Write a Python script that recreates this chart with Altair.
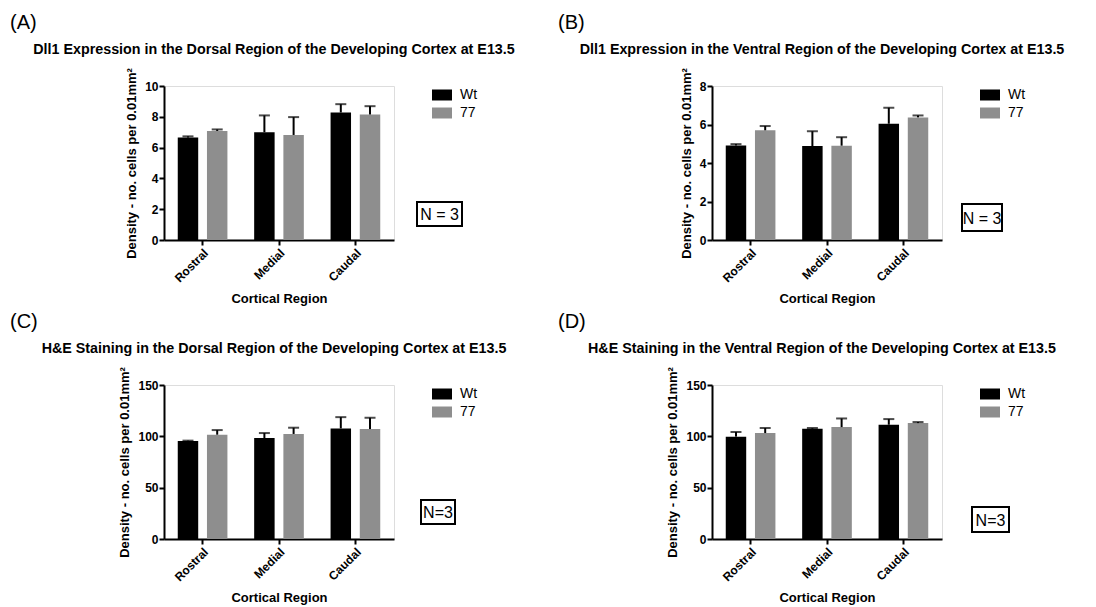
import altair as alt
import pandas as pd

FONT = "Liberation Sans"

regions = ["Rostral", "Medial", "Caudal"]
groups = ["Wt", "77"]
colors = ["#000000", "#8e8e8e"]

# Panel A: Dll1 dorsal
a_wt = [6.65, 7.00, 8.28]
a_wt_sem = [0.08, 1.09, 0.54]
a_77 = [7.08, 6.82, 8.15]
a_77_sem = [0.10, 1.16, 0.54]

# Panel B: Dll1 ventral
b_wt = [4.91, 4.88, 6.04]
b_wt_sem = [0.07, 0.77, 0.83]
b_77 = [5.70, 4.90, 6.37]
b_77_sem = [0.22, 0.44, 0.10]

# Panel C: H&E dorsal
c_wt = [95.5, 98.4, 107.7]
c_wt_sem = [0.3, 4.8, 11.0]
c_77 = [101.6, 102.3, 107.1]
c_77_sem = [4.5, 6.1, 11.0]

# Panel D: H&E ventral
d_wt = [99.7, 107.4, 111.3]
d_wt_sem = [4.5, 0.7, 5.5]
d_77 = [103.2, 109.0, 112.9]
d_77_sem = [4.9, 8.4, 1.0]

tags = ["(A)", "(B)", "(C)", "(D)"]
titles = [
    "Dll1 Expression in the Dorsal Region of the Developing Cortex at E13.5",
    "Dll1 Expression in the Ventral Region of the Developing Cortex at E13.5",
    "H&E Staining in the Dorsal Region of the Developing Cortex at E13.5",
    "H&E Staining in the Ventral Region of the Developing Cortex at E13.5",
]
notes = ["N = 3", "N = 3", "N=3", "N=3"]
ymaxes = [10, 8, 150, 150]
ysteps = [2, 2, 50, 50]

y_title = "Density - no. cells per 0.01mm²"
x_title = "Cortical Region"

W, H = 230, 154
# note box (x0, x1, y0, y1) in pixels relative to plot origin
boxes = [(253, 298, 116, 140), (250, 290, 118, 145), (257, 291, 115, 139), (260, 297, 122, 147)]

data_sets = [
    (a_wt, a_wt_sem, a_77, a_77_sem),
    (b_wt, b_wt_sem, b_77, b_77_sem),
    (c_wt, c_wt_sem, c_77, c_77_sem),
    (d_wt, d_wt_sem, d_77, d_77_sem),
]


def make_panel(i):
    wt, wt_sem, m, m_sem = data_sets[i]
    df = pd.DataFrame({
        "region": regions * 2,
        "group": ["Wt"] * 3 + ["77"] * 3,
        "value": wt + m,
        "sem": wt_sem + m_sem,
    })
    df["top"] = df["value"] + df["sem"]
    ymax = ymaxes[i]
    ticks = list(range(0, ymax + 1, ysteps[i]))
    yscale = alt.Scale(domain=[0, ymax], nice=False)
    yaxis = alt.Axis(values=ticks, tickCount=len(ticks), grid=False, domainColor="black",
                     domainWidth=2, tickColor="black", tickWidth=2, tickSize=5,
                     labelOverlap=False,
                     labelFont=FONT, labelFontWeight="bold", labelFontSize=12,
                     labelColor="black", labelPadding=1,
                     titleFont=FONT, titleFontWeight="bold", titleFontSize=13,
                     titleColor="black", titlePadding=6)
    xaxis = alt.Axis(labelAngle=-45, grid=False, domainColor="black", domainWidth=2,
                     tickColor="black", tickWidth=2, tickSize=5, labelOverlap=False,
                     labelFont=FONT, labelFontWeight="bold", labelFontSize=12,
                     labelColor="black", labelPadding=2,
                     titleFont=FONT, titleFontWeight="bold", titleFontSize=13,
                     titleColor="black", titlePadding=8)
    base = alt.Chart(df).encode(
        x=alt.X("region:N", sort=regions, title=x_title, axis=xaxis,
                scale=alt.Scale(paddingInner=0.35, paddingOuter=0.18)),
        xOffset=alt.XOffset("group:N", sort=groups,
                            scale=alt.Scale(domain=groups, paddingInner=0.3, paddingOuter=0)),
    )
    bars = base.mark_bar().encode(
        y=alt.Y("value:Q", title=y_title, scale=yscale, axis=yaxis),
        color=alt.Color("group:N", sort=groups,
                        scale=alt.Scale(domain=groups, range=colors),
                        legend=alt.Legend(title=None, orient="none", legendX=268, legendY=-1,
                                          symbolType="M-1,-0.55L1,-0.55L1,0.55L-1,0.55Z",
                                          symbolSize=400, symbolStrokeWidth=0,
                                          labelFont=FONT, labelFontSize=14, labelColor="black",
                                          labelOffset=8, rowPadding=1, padding=0)),
    )
    rules = base.mark_rule(color="black", strokeWidth=2).encode(
        y=alt.Y("value:Q", title=y_title, scale=yscale, axis=yaxis),
        y2="top:Q",
    )
    caps = base.mark_tick(color="black", thickness=2, size=11, orient="horizontal").encode(
        y=alt.Y("top:Q", title=y_title, scale=yscale, axis=yaxis),
    )
    one = pd.DataFrame({"tag": [tags[i]], "note": [notes[i]], "title": [titles[i]]})
    tag = alt.Chart(one).mark_text(font=FONT, fontSize=20, align="left", baseline="top",
                                   color="black").encode(
        text="tag:N", x=alt.value(-154), y=alt.value(-73))
    head = alt.Chart(one).mark_text(font=FONT, fontSize=14.3, fontWeight="bold", align="center",
                                    baseline="alphabetic", color="black").encode(
        text="title:N", x=alt.value(W / 2 - 5), y=alt.value(-32))
    x0, x1, y0, y1 = boxes[i]
    box = alt.Chart(one).mark_rect(fill="white", stroke="black", strokeWidth=2).encode(
        x=alt.value(x0), x2=alt.value(x1), y=alt.value(y0), y2=alt.value(y1))
    note = alt.Chart(one).mark_text(font=FONT, fontSize=16, align="center", baseline="middle",
                                    color="black").encode(
        text="note:N", x=alt.value((x0 + x1) / 2), y=alt.value((y0 + y1) / 2 + 1))
    return alt.layer(bars, rules, caps, tag, head, box, note).properties(width=W, height=H)


panels = [make_panel(i) for i in range(4)]

chart = alt.concat(
    *panels, columns=2, spacing={"row": 145, "column": 318}, bounds="flush"
).resolve_scale(
    color="independent", x="independent", y="independent", xOffset="independent"
).resolve_legend(color="independent").properties(
    padding={"left": 1, "top": 4, "right": 5, "bottom": 5}
).configure_view(stroke=None).configure(background="white")

chart.save("out.html", embed_options={"renderer": "svg", "actions": False})
